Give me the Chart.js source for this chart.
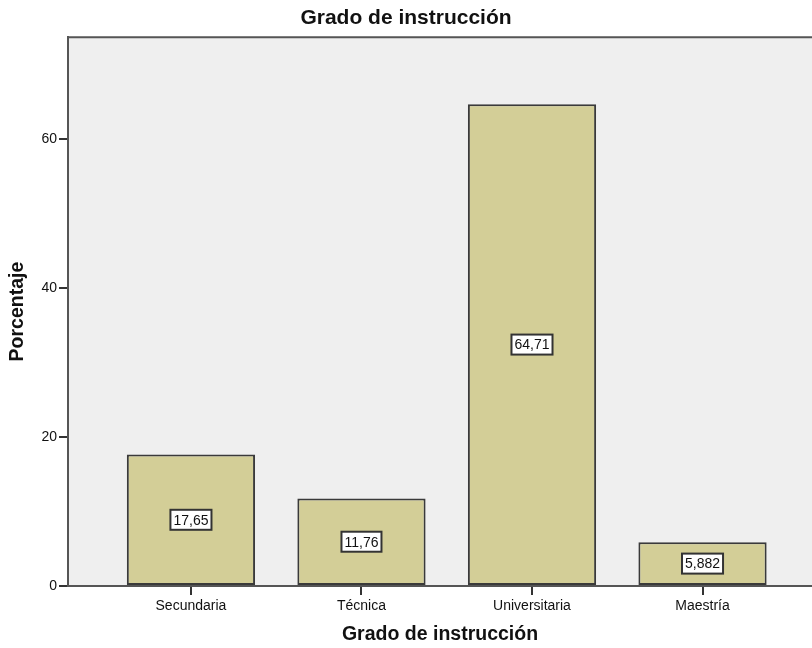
<!DOCTYPE html>
<html lang="es">
<head>
    <meta charset="UTF-8">
    <title>Grado de instrucción</title>
    <script src="https://cdn.jsdelivr.net/npm/chart.js@4.4.0/dist/chart.umd.min.js"></script>
    <style>
        body { margin: 0; background: #fff; overflow: hidden; }
    </style>
</head>
<body>
    <canvas id="myChart" width="812" height="648"></canvas>

    <script>
        // datos
        var categorias = ['Secundaria', 'Técnica', 'Universitaria', 'Maestría'];
        var porcentajes = [17.65, 11.76, 64.71, 5.882];
        var ticksY = [0, 20, 40, 60];

        var fuente = "'Liberation Sans', Arial, sans-serif";

        // fondo gris del area de trazado y linea superior del marco
        var fondoPlugin = {
            id: 'fondo',
            beforeDraw: function (chart) {
                var ctx = chart.ctx;
                var a = chart.chartArea;
                ctx.save();
                ctx.fillStyle = '#fff';
                ctx.fillRect(0, 0, chart.width, chart.height);
                ctx.fillStyle = '#efefef';
                ctx.fillRect(a.left, a.top, a.right - a.left, a.bottom - a.top);
                ctx.restore();
            },
            afterDraw: function (chart) {
                var ctx = chart.ctx;
                var a = chart.chartArea;
                ctx.save();
                ctx.strokeStyle = '#555';
                ctx.lineWidth = 2;
                ctx.beginPath();
                ctx.moveTo(a.left - 1, a.top);
                ctx.lineTo(a.right, a.top);
                ctx.stroke();
                ctx.restore();
            }
        };

        // etiquetas de valor en cajas blancas, en el centro de cada barra
        var etiquetasPlugin = {
            id: 'etiquetas',
            afterDatasetsDraw: function (chart) {
                var ctx = chart.ctx;
                var meta = chart.getDatasetMeta(0);
                ctx.save();
                ctx.font = '14px ' + fuente;
                ctx.textAlign = 'center';
                ctx.textBaseline = 'middle';
                meta.data.forEach(function (bar, i) {
                    var texto = String(porcentajes[i]).replace('.', ',');
                    var cy = (bar.y + bar.base) / 2;
                    var w = ctx.measureText(texto).width + 6;
                    var h = 20;
                    ctx.fillStyle = '#fff';
                    ctx.fillRect(bar.x - w / 2, cy - h / 2, w, h);
                    ctx.strokeStyle = '#333';
                    ctx.lineWidth = 2;
                    ctx.strokeRect(bar.x - w / 2, cy - h / 2, w, h);
                    ctx.fillStyle = '#111';
                    ctx.fillText(texto, bar.x, cy + 1);
                });
                ctx.restore();
            }
        };

        var ctx = document.getElementById('myChart').getContext('2d');
        var grafico = new Chart(ctx, {
            type: 'bar',
            data: {
                datasets: [{
                    label: 'Porcentaje',
                    data: porcentajes.map(function (v, i) { return { x: i, y: v }; }),
                    backgroundColor: '#d3ce97',
                    borderColor: '#3a3a3a',
                    borderWidth: 2,
                    borderSkipped: false,
                    categoryPercentage: 1,
                    barPercentage: 0.752
                }]
            },
            options: {
                responsive: false,
                animation: false,
                layout: { padding: 0 },
                plugins: {
                    legend: { display: false },
                    tooltip: { enabled: false },
                    title: {
                        display: true,
                        text: 'Grado de instrucción',
                        color: '#111',
                        font: { family: fuente, size: 21, weight: 'bold' },
                        padding: { top: 6, bottom: 6 }
                    }
                },
                scales: {
                    x: {
                        type: 'linear',
                        offset: false,
                        min: -0.721,
                        max: 3.642,
                        afterBuildTicks: function (scale) {
                            scale.ticks = categorias.map(function (c, i) { return { value: i }; });
                        },
                        afterFit: function (scale) { scale.height = 62; },
                        ticks: {
                            color: '#111',
                            padding: 3,
                            font: { family: fuente, size: 14 },
                            callback: function (v) { return categorias[v]; }
                        },
                        grid: {
                            offset: false,
                            drawOnChartArea: false,
                            drawTicks: true,
                            tickLength: 9,
                            color: '#333',
                            lineWidth: 2
                        },
                        border: { display: true, color: '#555', width: 2 },
                        title: {
                            display: true,
                            text: 'Grado de instrucción',
                            color: '#111',
                            font: { family: fuente, size: 19.5, weight: 'bold' },
                            padding: { top: 4, bottom: 2 }
                        }
                    },
                    y: {
                        min: 0,
                        max: 73.7,
                        afterBuildTicks: function (scale) {
                            scale.ticks = ticksY.map(function (v) { return { value: v }; });
                        },
                        afterFit: function (scale) { scale.width = 68; },
                        ticks: {
                            color: '#111',
                            padding: 2,
                            font: { family: fuente, size: 14 }
                        },
                        grid: {
                            drawOnChartArea: false,
                            drawTicks: true,
                            tickLength: 9,
                            color: '#333',
                            lineWidth: 2
                        },
                        border: { display: true, color: '#555', width: 2 },
                        title: {
                            display: true,
                            text: 'Porcentaje',
                            color: '#111',
                            font: { family: fuente, size: 19.5, weight: 'bold' },
                            padding: { top: 6, bottom: 0 }
                        }
                    }
                }
            },
            plugins: [fondoPlugin, etiquetasPlugin]
        });
    </script>
</body>
</html>
